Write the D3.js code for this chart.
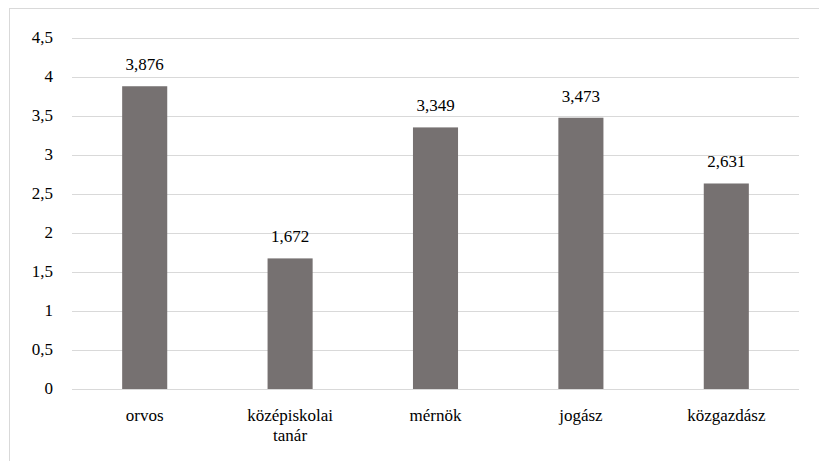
<!DOCTYPE html>
<html><head><meta charset="utf-8">
<script src="https://cdn.jsdelivr.net/npm/d3@7"></script>
</head><body style="margin:0">
<svg id="c" width="819" height="461"></svg>
<script>
const categories = ["orvos", "középiskolai tanár", "mérnök", "jogász", "közgazdász"];
const values = [3.876, 1.672, 3.349, 3.473, 2.631];
const yTicks = [0, 0.5, 1, 1.5, 2, 2.5, 3, 3.5, 4, 4.5];

const svg = d3.select("#c");
const fmt = v => String(v).replace(".", ",");

svg.append("rect").attr("x", 9.5).attr("y", 8.5).attr("width", 830).attr("height", 470)
  .attr("fill", "#fff").attr("stroke", "#d9d9d9").attr("stroke-width", 1);

const x = d3.scaleBand().domain(categories).range([72, 799]).paddingInner(0.69).paddingOuter(0.345);
const y = d3.scaleLinear().domain([0, 4.5]).range([389, 37.5]);

svg.append("g").selectAll("line").data(yTicks).join("line")
  .attr("x1", 72).attr("x2", 799)
  .attr("y1", d => Math.round(y(d)) + 0.5).attr("y2", d => Math.round(y(d)) + 0.5)
  .attr("stroke", "#d9d9d9").attr("stroke-width", 1);

function styleText(sel) {
  return sel.style("font-family", "Liberation Serif, serif").style("font-size", "17px").attr("fill", "#000");
}

styleText(svg.append("g").selectAll("text").data(yTicks).join("text")
  .attr("x", 53).attr("y", d => y(d)).attr("dy", "0.32em")
  .attr("text-anchor", "end"))
  .text(fmt);

svg.append("g").selectAll("rect").data(values).join("rect")
  .attr("x", (d, i) => x(categories[i])).attr("width", x.bandwidth())
  .attr("y", d => y(d)).attr("height", d => y(0) - y(d))
  .attr("fill", "#767171");

styleText(svg.append("g").selectAll("text").data(values).join("text")
  .attr("x", (d, i) => x(categories[i]) + x.bandwidth() / 2)
  .attr("y", d => y(d) - 16)
  .attr("text-anchor", "middle"))
  .text(d => fmt(d));

const lines = [];
categories.forEach(c => {
  const parts = c === "középiskolai tanár" ? ["középiskolai", "tanár"] : [c];
  parts.forEach((p, i) => lines.push({c, p, i}));
});
styleText(svg.append("g").selectAll("text").data(lines).join("text")
  .attr("x", d => x(d.c) + x.bandwidth() / 2).attr("y", d => 421 + d.i * 20)
  .attr("text-anchor", "middle"))
  .text(d => d.p);
</script>
</body></html>
